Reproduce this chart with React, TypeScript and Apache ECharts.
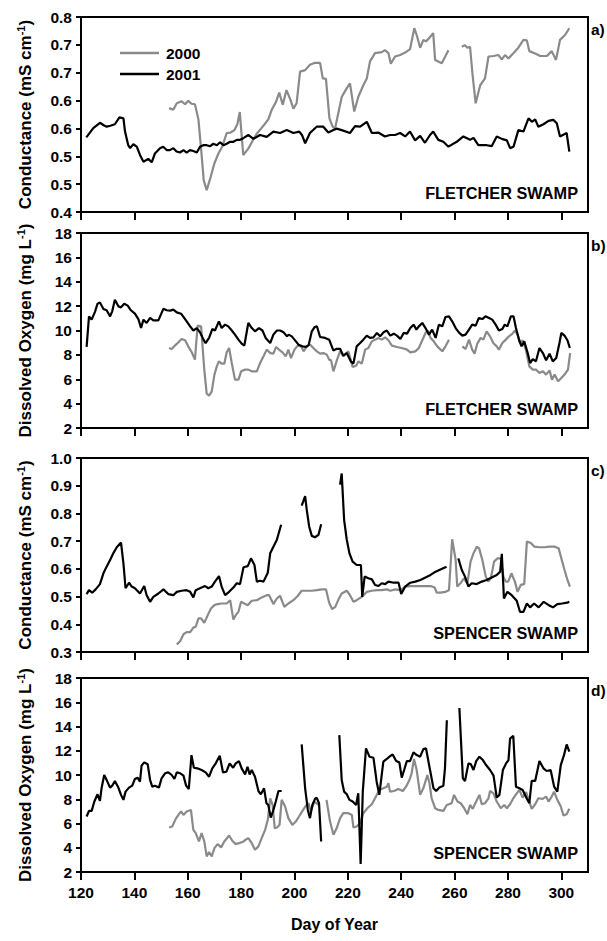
import React, { useEffect, useRef } from "react";
import * as echarts from "echarts";

type Pt = [number, number | null];

// ---- x axis ----
const dayTicks = [120, 140, 160, 180, 200, 220, 240, 260, 280, 300];

// ---- panel a: Fletcher conductance ----
const condTicksA = [0.4, 0.4571, 0.5143, 0.5714, 0.6286, 0.6857, 0.7429, 0.8];
const condTickLabelsA = ["0.4", "0.5", "0.5", "0.6", "0.6", "0.7", "0.7", "0.8"];

const fletcherCond2000: Pt[] = [
  [153, 0.613], [154.6, 0.61], [155.9, 0.623], [157.7, 0.627], [159, 0.621], [160.2, 0.628], [161.4, 0.622],
  [162.7, 0.621], [164, 0.59], [165, 0.53], [166, 0.465], [167.1, 0.445], [168.5, 0.47], [170, 0.5],
  [171.5, 0.52], [173, 0.535], [174.6, 0.562], [176, 0.563], [177.5, 0.568], [178.6, 0.58], [179.5, 0.605],
  [180.8, 0.517], [182.7, 0.53], [184.2, 0.545], [185.8, 0.56], [187.3, 0.57], [188.8, 0.58], [190.2, 0.59],
  [191.5, 0.61], [193, 0.625], [194.3, 0.645], [195.6, 0.62], [197, 0.65], [198.5, 0.63], [199.6, 0.612],
  [200.8, 0.623], [202.1, 0.688], [204, 0.691], [205.8, 0.702], [207.7, 0.706], [209.6, 0.706], [210.6, 0.674],
  [211.8, 0.673], [213.1, 0.592], [214.3, 0.575], [215.2, 0.571], [216.4, 0.602], [217.7, 0.636], [219.6, 0.654],
  [220.8, 0.664], [222.4, 0.606], [223.9, 0.636], [225.8, 0.66], [227.1, 0.674], [228.3, 0.709], [230.2, 0.726],
  [232.7, 0.728], [233.9, 0.732], [235.2, 0.726], [236.1, 0.704], [237.7, 0.719], [239.6, 0.722], [241.5, 0.727],
  [243.3, 0.734], [244.9, 0.777], [245.8, 0.763], [247.1, 0.737], [248.3, 0.753], [249.3, 0.75], [250.5, 0.757],
  [252, 0.767], [252.7, 0.712], [255.2, 0.705], [257.7, 0.732], [260, null], [262.7, 0.739], [263.9, 0.742],
  [264.8, 0.737], [265.8, 0.739], [266.8, 0.678], [267.9, 0.623], [269.6, 0.66], [271.4, 0.674], [272.7, 0.719],
  [274.6, 0.72], [276.4, 0.722], [277.7, 0.713], [278.9, 0.722], [280.2, 0.715], [282.1, 0.726], [283.9, 0.737],
  [285.8, 0.753], [287.1, 0.752], [288, 0.73], [290.2, 0.725], [292.1, 0.72], [294.6, 0.72], [296.4, 0.73],
  [298, 0.712], [299.5, 0.753], [301.4, 0.763], [303, 0.777],
];

const fletcherCond2001: Pt[] = [
  [122, 0.553], [124.6, 0.572], [127.1, 0.583], [128.5, 0.578], [129.6, 0.575], [131, 0.577], [132.7, 0.58],
  [134.4, 0.594], [135.9, 0.592], [136.5, 0.565], [137.7, 0.537], [138.4, 0.531], [139.6, 0.539], [140.9, 0.534],
  [142.1, 0.517], [143.4, 0.503], [145.2, 0.509], [146.5, 0.502], [147.7, 0.52], [149.6, 0.531], [150.8, 0.534],
  [152.1, 0.527], [153.3, 0.527], [154.6, 0.531], [155.8, 0.524], [157.1, 0.522], [158.4, 0.527], [159.6, 0.522],
  [160.8, 0.527], [162.1, 0.525], [163.4, 0.522], [164.6, 0.534], [165.8, 0.537], [167.1, 0.537], [168.4, 0.535],
  [169.6, 0.54], [170.9, 0.537], [172.1, 0.543], [173.4, 0.537], [174.6, 0.54], [175.9, 0.544], [177.1, 0.544],
  [178.4, 0.548], [179.6, 0.548], [181, 0.552], [182.7, 0.558], [184.6, 0.55], [187.1, 0.558], [189.6, 0.554],
  [192.1, 0.565], [194.6, 0.562], [197.1, 0.568], [199.6, 0.562], [201.8, 0.565], [202.8, 0.558], [204, 0.541],
  [205.8, 0.562], [208.3, 0.575], [210.8, 0.575], [212.7, 0.563], [214.6, 0.568], [215.8, 0.571], [217.7, 0.568],
  [220.8, 0.562], [222.7, 0.576], [224.6, 0.575], [227.1, 0.585], [229, 0.562], [231.4, 0.563], [233.9, 0.555],
  [235.8, 0.558], [237.7, 0.558], [239.6, 0.562], [241.5, 0.555], [243.3, 0.565], [245.2, 0.547], [247.1, 0.556],
  [248.9, 0.542], [250.8, 0.558], [252, 0.565], [253.9, 0.548], [255.8, 0.544], [257.7, 0.534], [260.8, 0.544],
  [263.3, 0.555], [265.8, 0.548], [267.1, 0.552], [268.9, 0.537], [272.1, 0.537], [273.9, 0.535], [275.8, 0.555],
  [277.7, 0.55], [279.6, 0.547], [280.8, 0.531], [282.1, 0.534], [283.9, 0.568], [285.8, 0.565], [287.7, 0.592],
  [289, 0.585], [290.2, 0.59], [291.4, 0.575], [293.3, 0.58], [295.2, 0.587], [297, 0.589], [298.3, 0.582],
  [299.5, 0.555], [302, 0.562], [303, 0.524],
];

// ---- panel b: Fletcher dissolved oxygen ----
const fletcherDO2000: Pt[] = [
  [153, 8.56], [154, 8.48], [155.2, 8.76], [156.5, 9.03], [157.7, 9.3], [159, 9.2], [160.2, 8.7], [161.5, 8.21],
  [162.7, 7.61], [163.7, 10.4], [165, 10.34], [166.2, 6.79], [167.1, 4.82], [168, 4.65], [169, 5], [170, 6.38],
  [170.9, 7.06], [171.7, 7.47], [172.7, 7.28], [173.7, 7.28], [174.6, 8.21], [175.5, 8.56], [176.5, 7.33],
  [177.7, 5.97], [179, 5.97], [180, 6.65], [181.5, 6.79], [182.7, 6.79], [184, 6.65], [185.9, 6.65], [187.1, 7.33],
  [188.4, 7.88], [189.6, 8.43], [190.9, 8.15], [192.1, 8.1], [193.1, 8.65], [194.2, 8.43], [195.5, 8.21],
  [196.7, 7.88], [197.7, 8.43], [198.7, 7.74], [200, 8.43], [201.2, 8.76], [202.5, 8.7], [203.4, 8.29],
  [204.7, 8.7], [205.9, 8.84], [207.1, 8.56], [208.4, 8.29], [209.6, 8.1], [210.9, 8.15], [212.1, 8.02],
  [213, 7.61], [213.7, 7.55], [214.6, 6.65], [215.8, 7.5], [217.1, 8.3], [218.3, 7.88], [220.2, 8.29], [221.8, 7],
  [223.1, 7.11], [224, 7.47], [225.2, 7.28], [226.5, 8.43], [227.7, 8.56], [229, 9.11], [230.2, 9.25],
  [231.5, 9.39], [232.7, 9.25], [234, 9.44], [235.2, 9.2], [236.5, 8.76], [238.4, 8.65], [240.2, 8.56],
  [242.2, 8.43], [243.4, 8.21], [245.3, 8.29], [246.6, 8.56], [247.9, 9.2], [249.1, 9.8], [250, 10], [251, 9.39],
  [252.2, 9.11], [253.5, 8.7], [255.4, 8.29], [256.6, 8.7], [257.9, 9.25], [260, null], [262.9, 8.7],
  [264.1, 8.48], [265.4, 9.25], [266.6, 8.43], [267.5, 8.1], [268.5, 8.92], [269.8, 9.39], [270.8, 9.25],
  [272, 9.93], [273.3, 9.52], [274.5, 8.97], [275.8, 8.7], [276.6, 8.43], [277.9, 8.97], [279.2, 9.25],
  [280.4, 9.52], [281.7, 9.74], [282.6, 10], [283.6, 9.66], [284.6, 8.97], [285.5, 9.2], [286.7, 8.43],
  [288, 7.06], [289.3, 6.79], [290.5, 6.79], [291.8, 6.51], [293.1, 6.65], [294.3, 6.38], [295.6, 6.73],
  [296.5, 5.97], [297.5, 6.38], [298.8, 5.83], [300, 6.1], [301.2, 6.38], [302.5, 6.79], [303.3, 8.15],
];

const fletcherDO2001: Pt[] = [
  [122.1, 8.65], [123, 11.16], [124, 10.89], [125.3, 11.57], [126.2, 12.2], [127.1, 12.3], [128.4, 11.77],
  [129.6, 11.66], [130.9, 11.16], [131.7, 11.57], [132.7, 12.53], [134, 11.98], [135, 11.9], [136.2, 12.2],
  [137.5, 12.04], [138.7, 11.66], [140.2, 11.38], [141.5, 10.94], [142.5, 10.2], [143.4, 10.89], [144.6, 10.62],
  [145.9, 11.03], [147.1, 10.83], [149, 10.83], [150.9, 11.79], [152.1, 11.66], [153.4, 11.63], [154.6, 11.71],
  [155.9, 11.49], [157.5, 11.38], [158.4, 11.11], [159.6, 10.75], [160.9, 10.34], [162.1, 10], [163.4, 10.2],
  [164.6, 9.85], [165.9, 9.25], [166.7, 8.97], [168, 9.39], [169.2, 10.12], [170.2, 10], [171.7, 10.75],
  [172.7, 10.2], [174, 10.48], [175.2, 10.34], [176.5, 10], [177.7, 9.66], [179, 9.25], [180.2, 8.92],
  [181.2, 8.76], [182.7, 10.62], [184, 10.2], [185.2, 9.93], [186.7, 10.2], [188, 10], [189.2, 9.39],
  [190.9, 8.97], [192.1, 9.66], [193.4, 10], [194.6, 10], [195.9, 9.85], [197.2, 9.52], [197.8, 9.66],
  [199, 9.52], [200.3, 9.17], [201.5, 8.84], [203, 8.7], [204.3, 8.65], [205.3, 8.8], [206.5, 9.93],
  [207.6, 10.29], [208.4, 10.35], [209.6, 9.47], [211.5, 9.39], [213, 9.25], [214.6, 8.35], [215.8, 8.5],
  [217.1, 8.5], [218.3, 7.94], [219.6, 8.15], [221.1, 7.47], [222.1, 7.28], [223.3, 8.7], [224.6, 8.97],
  [225.8, 9.25], [227.1, 9.58], [228.3, 9.39], [229.6, 9.44], [230.9, 9.8], [232.1, 9.52], [233.4, 9.85],
  [234.6, 10], [235.9, 9.58], [237.2, 9.74], [238.4, 9.58], [239.7, 9.3], [240.9, 9.8], [242.2, 9.74],
  [243.4, 10.2], [244.7, 10.48], [245.7, 10.07], [246.6, 10.34], [247.9, 10.62], [249.1, 10.2], [250.4, 9.66],
  [251.6, 10.07], [252.9, 9.39], [254.1, 10.48], [255.4, 10.34], [256.6, 11.11], [257.9, 11.16], [259.1, 10.75],
  [260.4, 10.2], [261.6, 9.85], [262.9, 9.58], [264.1, 9.66], [265.4, 10.07], [266.6, 10.48], [267.9, 10.4],
  [269.1, 11.03], [270.4, 10.94], [271.6, 11.16], [272.9, 11.03], [274.1, 10.89], [275.4, 10.48], [276.6, 10],
  [277.9, 10.12], [278.8, 10.48], [279.8, 10.34], [281.1, 11.16], [282.1, 11.16], [283, 10.2], [284.2, 9.2],
  [285.1, 8.7], [286.1, 9.11], [287.4, 8.15], [288.3, 7.33], [289.3, 7.66], [290.5, 7.47], [291.8, 8.56],
  [293.1, 8.15], [294.3, 7.55], [295.6, 8.1], [296.8, 7.47], [298.1, 7.74], [299.3, 8.97], [300, 9.8],
  [301.2, 9.58], [302.3, 9.2], [303.2, 8.56],
];

// ---- panel c: Spencer conductance ----
const spencerCond2000: Pt[] = [
  [155.9, 0.327], [157.2, 0.34], [158.4, 0.364], [159.6, 0.372], [160.9, 0.372], [162.1, 0.388], [163, 0.391],
  [164, 0.421], [165, 0.421], [166.2, 0.405], [167.5, 0.433], [168.7, 0.457], [170, 0.469], [171.2, 0.473],
  [172.7, 0.475], [174.6, 0.475], [175.9, 0.487], [177.1, 0.417], [178, 0.433], [179, 0.445], [180, 0.481],
  [181.2, 0.475], [182.5, 0.469], [184, 0.485], [185.9, 0.487], [187.7, 0.497], [189.6, 0.505], [190.5, 0.505],
  [192.1, 0.473], [193.4, 0.493], [194.6, 0.503], [196.2, 0.463], [197.7, 0.475], [199.6, 0.487], [201.2, 0.502],
  [202.7, 0.521], [204.6, 0.521], [206.5, 0.521], [208.4, 0.523], [210.3, 0.526], [211.8, 0.526], [213, 0.478],
  [214.1, 0.455], [215.3, 0.463], [216.5, 0.49], [217.7, 0.511], [219.6, 0.521], [220.8, 0.505], [222.1, 0.481],
  [223.3, 0.487], [225.2, 0.499], [227.1, 0.517], [229, 0.521], [230.9, 0.523], [232.7, 0.523], [234.6, 0.526],
  [235.9, 0.521], [237.8, 0.526], [239.7, 0.523], [241.5, 0.536], [243.4, 0.538], [245.3, 0.538], [247.2, 0.538],
  [249.1, 0.538], [251, 0.538], [252.5, 0.533], [253.3, 0.514], [254.7, 0.514], [256.6, 0.517], [257.9, 0.523],
  [259.1, 0.707], [260.4, 0.632], [261, 0.536], [262.2, 0.548], [263.5, 0.566], [264.8, 0.548], [266, 0.626],
  [267, 0.654], [268.3, 0.68], [269.2, 0.674], [270.4, 0.632], [271.7, 0.572], [272.6, 0.554], [273.6, 0.566],
  [274.8, 0.626], [276.1, 0.638], [277.3, 0.638], [278.3, 0.572], [279.2, 0.554], [280.1, 0.554], [281.3, 0.584],
  [282.6, 0.554], [283.6, 0.517], [284.8, 0.542], [286.1, 0.545], [287.1, 0.699], [288.6, 0.693], [289.9, 0.68],
  [291.8, 0.678], [293.7, 0.678], [295.6, 0.68], [297.5, 0.68], [299, 0.674], [300, 0.638], [301.2, 0.596],
  [302.3, 0.56], [303.2, 0.536],
];

const spencerCond2001: Pt[] = [
  [122.1, 0.509], [123, 0.523], [124.2, 0.514], [125.5, 0.526], [127.1, 0.545], [128.4, 0.584], [129.6, 0.608],
  [130.9, 0.632], [132.1, 0.656], [133.4, 0.678], [135, 0.695], [135.9, 0.62], [136.7, 0.53], [138, 0.55],
  [139, 0.536], [140.2, 0.53], [142.1, 0.511], [143.7, 0.538], [144.6, 0.505], [145.9, 0.481], [147.1, 0.499],
  [149, 0.511], [150.9, 0.526], [152.7, 0.509], [154.6, 0.505], [155.9, 0.517], [157.7, 0.521], [159.6, 0.523],
  [160.9, 0.517], [162.1, 0.497], [163, 0.523], [164.6, 0.53], [166.5, 0.538], [167.7, 0.53], [169, 0.536],
  [170.2, 0.554], [171.7, 0.574], [172.7, 0.536], [174, 0.505], [175.5, 0.517], [177.1, 0.533], [178.4, 0.548],
  [179.6, 0.545], [180.9, 0.606], [182.5, 0.61], [183.7, 0.638], [185, 0.614], [185.9, 0.554], [187.1, 0.557],
  [188.4, 0.554], [190, 0.586], [190.9, 0.656], [192.1, 0.68], [193.4, 0.705], [195, 0.759], [198, null],
  [202.7, 0.828], [204, 0.862], [204.6, 0.813], [205.5, 0.753], [206.5, 0.719], [207.7, 0.714], [209, 0.723],
  [210, 0.761], [213, null], [217.1, 0.904], [217.7, 0.944], [218.6, 0.777], [219.6, 0.705], [220.6, 0.656],
  [221.8, 0.626], [223.3, 0.614], [224.9, 0.614], [225.4, 0.499], [226.3, 0.572], [227.7, 0.566], [229, 0.562],
  [230.2, 0.542], [231.5, 0.538], [232.7, 0.548], [234, 0.545], [235.2, 0.554], [237.2, 0.55], [239, 0.55],
  [240, 0.509], [241.5, 0.536], [243.4, 0.55], [245.3, 0.554], [247.2, 0.56], [249.1, 0.569], [251, 0.578],
  [252.9, 0.59], [254.7, 0.598], [257, 0.608], [259, null], [261.4, 0.638], [262.7, 0.596], [263.9, 0.572],
  [265.2, 0.536], [266.4, 0.548], [268.3, 0.545], [270.2, 0.554], [272, 0.56], [273.9, 0.569], [275.8, 0.578],
  [277.1, 0.59], [277.7, 0.654], [278.5, 0.493], [279.8, 0.517], [281.4, 0.505], [283.3, 0.485], [284.5, 0.445],
  [285.8, 0.445], [287.1, 0.475], [288.3, 0.461], [289.8, 0.475], [291.5, 0.461], [293.4, 0.481], [295.3, 0.469],
  [296.9, 0.461], [298.5, 0.473], [300.3, 0.475], [302.2, 0.478], [303, 0.481],
];

// ---- panel d: Spencer dissolved oxygen ----
const spencerDO2000: Pt[] = [
  [153, 5.67], [154.2, 5.75], [155.5, 6.38], [156.7, 6.77], [157.5, 6.99], [158.4, 6.71], [159.6, 6.99],
  [161.2, 7.12], [162.1, 5.48], [163, 5.21], [164.2, 4.52], [165.2, 5.21], [166.2, 4.52], [167.1, 3.29],
  [168, 3.64], [169, 3.29], [170, 3.97], [171.2, 4.3], [172.5, 4.03], [173.7, 4.52], [175.5, 5.01], [176.7, 4.58],
  [178, 4.3], [179.2, 4.38], [180.5, 4.47], [181.7, 4.66], [182.7, 4.79], [184, 4.38], [185.2, 3.84],
  [186.5, 4.11], [187.7, 4.79], [189, 5.48], [190, 6.3], [190.9, 8.08], [191.8, 7.53], [192.6, 5.62],
  [193.5, 5.67], [194.4, 5.89], [195.2, 7.95], [196.5, 7.4], [197.7, 6.44], [199.2, 5.89], [200.5, 6.16],
  [201.7, 6.58], [203, 7.04], [204.3, 7.48], [205.3, 7.67], [206.1, 6.99], [207.4, 7.81], [209, 7.53],
  [210.5, null], [212, 7.95], [213.3, 6.2], [214.6, 5.07], [215.8, 5.6], [217.1, 6.44], [218.3, 6.85],
  [220.2, 6.85], [221.5, 6.71], [222.1, 5.67], [223.3, 5.75], [224.6, 6.03], [225.8, 6.85], [227.3, 7.26],
  [229, 7.59], [230.2, 8.08], [231.8, 8.77], [233.3, 8.9], [234.6, 9.04], [235.2, 9.32], [235.8, 8.63],
  [237.3, 8.68], [238.9, 8.85], [240.6, 8.68], [241.8, 9.04], [243.1, 9.59], [243.9, 10.14], [244.8, 11.32],
  [245.8, 10.41], [247.1, 8.36], [248.3, 8.9], [249.8, 10], [250.6, 9.32], [251.4, 8.08], [252.7, 7.26],
  [253.9, 7.12], [255.8, 7.04], [257.1, 7.53], [258.9, 7.67], [259.8, 8.36], [261.1, 7.81], [262.3, 7.67],
  [263.6, 7.26], [264.8, 6.77], [265.8, 7.53], [266.8, 7.21], [268.1, 7.81], [269.3, 8.36], [270.2, 7.59],
  [271.4, 7.67], [272.7, 8.08], [273.3, 8.68], [274.6, 8.49], [275.8, 7.81], [277.3, 7.26], [278.6, 7.53],
  [279.6, 7.26], [280.8, 7.59], [282, 8.08], [283.3, 8.49], [284.3, 8.77], [285.5, 8.14], [286.8, 8.58],
  [288, 7.81], [288.9, 7.21], [290.2, 7.59], [291.4, 8.08], [293, 8.03], [294.3, 8.22], [295.2, 7.81],
  [296.4, 8.22], [297.3, 8.63], [298.5, 7.95], [299.8, 7.4], [300.8, 6.66], [302, 6.77], [303, 7.21],
];

const spencerDO2001: Pt[] = [
  [122.1, 6.58], [123, 7.04], [124, 7.04], [125, 7.81], [126.2, 8.41], [127.1, 7.86], [127.7, 8.9], [128.7, 10],
  [129.6, 9.59], [130.9, 8.96], [131.7, 9.12], [132.7, 9.51], [134, 8.96], [135, 8.36], [135.9, 7.95],
  [136.7, 8.63], [138, 8.96], [139.2, 9.12], [140.2, 9.67], [141.2, 9.78], [142.1, 9.45], [142.7, 10.77],
  [143.7, 11.04], [145, 10.88], [145.9, 9.59], [146.7, 9.04], [147.7, 9.12], [149.2, 8.96], [150.2, 9.73],
  [151.5, 10.14], [152.7, 10.22], [154, 10], [155, 9.67], [155.9, 10.22], [157.2, 10.14], [158.4, 9.95],
  [159.4, 9.12], [160.4, 8.85], [161.4, 11.64], [162.3, 10.6], [163.6, 10.55], [165.2, 10.41], [166.7, 10.22],
  [168, 9.86], [169.2, 10.55], [170.5, 10.96], [172, 11.59], [173.2, 10.22], [174.5, 10.27], [175.7, 10.96],
  [177, 10.6], [178, 10.96], [179.2, 11.15], [180.2, 10.55], [181.5, 10.05], [182.4, 10.68], [183.2, 10.05],
  [184, 10.41], [185.2, 9.86], [186.5, 8.68], [187.4, 8.41], [188.6, 8.9], [189.5, 7.67], [190.2, 7.53],
  [191.1, 6.49], [192, 7.04], [193, 7.81], [194, 8.68], [195.2, 8.68], [199, null], [202.7, 12.52], [204, 8.9],
  [205, 7.12], [205.8, 6.44], [206.7, 7.53], [207.7, 8.03], [208.3, 8.14], [209.2, 7.67], [210, 4.52],
  [214, null], [216.8, 13.29], [217.7, 9.59], [218.6, 8.63], [219.6, 8.41], [220.6, 7.95], [221.8, 7.81],
  [223.1, 7.53], [223.9, 8.49], [224.8, 2.66], [225.6, 8.63], [226.8, 12.19], [228.1, 11.51], [229.6, 11.42],
  [230.8, 9.45], [231.8, 8.36], [233.3, 11.1], [234.6, 11.32], [235.6, 11.51], [236.8, 11.7], [238.1, 11.15],
  [239.3, 11.04], [240.2, 9.78], [241.1, 10.41], [242.1, 11.15], [243.3, 11.15], [244.6, 11.86], [245.8, 11.64],
  [247.1, 11.51], [248.3, 12.14], [249.3, 12.19], [250.8, 10.41], [252.1, 8.9], [253.1, 8.68], [254.3, 8.96],
  [255.8, 9.12], [256.4, 10.55], [257.1, 14.52], [259, null], [261.8, 15.53], [263.1, 9.73], [263.9, 9.51],
  [265.2, 10.96], [266.1, 10.88], [267.1, 10.41], [268.1, 11.15], [269.3, 11.51], [270.6, 11.23], [271.8, 10.82],
  [273.3, 10.41], [274.6, 9.95], [275.8, 8.14], [276.8, 8.36], [278.1, 10.41], [279.3, 10.96], [280.2, 11.23],
  [280.8, 13.01], [282, 13.23], [283, 9.04], [284.3, 8.9], [285.5, 8.77], [287, 8.08], [288, 7.67],
  [288.9, 9.51], [290.2, 9.51], [291.8, 11.15], [293.3, 10.55], [294.5, 10.33], [296, 10.41], [297.3, 9.04],
  [298.5, 8.63], [299.8, 10.82], [301, 11.64], [302, 12.52], [303, 11.92],
];

const doTicks = [2, 4, 6, 8, 10, 12, 14, 16, 18];
const condTicksC = [0.3, 0.4, 0.5, 0.6, 0.7, 0.8, 0.9, 1.0];
const panelLetters = ["a)", "b)", "c)", "d)"];
const siteNames = ["FLETCHER SWAMP", "FLETCHER SWAMP", "SPENCER SWAMP", "SPENCER SWAMP"];

const FONT = "'Liberation Sans', Arial, Helvetica, sans-serif";
const GRAY = "#8a8a8a";
const BLACK = "#000000";

export default function App() {
  const ref = useRef<HTMLDivElement>(null);

  useEffect(() => {
    if (!ref.current) return;
    const chart = echarts.init(ref.current, undefined, { renderer: "svg" });

    const gridTops = [17, 233, 458, 678];
    const gridHeights = [195, 195, 194, 194];
    const gridLeft = 81;
    const gridWidth = 507;

    const grids = gridTops.map((t, i) => ({
      left: gridLeft,
      top: t,
      width: gridWidth,
      height: gridHeights[i],
      show: true,
      borderColor: BLACK,
      borderWidth: 2,
      backgroundColor: "transparent",
      containLabel: false,
      outerBoundsMode: "none",
    }));

    const xAxes = gridTops.map((_, i) => ({
      type: "value",
      gridIndex: i,
      min: 120,
      max: 310,
      interval: 20,
      axisLine: { show: true, onZero: false, lineStyle: { color: BLACK, width: 2 } },
      axisTick: { show: true, inside: false, length: 8, lineStyle: { color: BLACK, width: 2 }, customValues: dayTicks },
      axisLabel: {
        show: i === 3,
        customValues: dayTicks,
        color: BLACK,
        fontFamily: FONT,
        fontWeight: "bold",
        fontSize: 15.5,
        margin: 12,
      },
      splitLine: { show: false },
      name: i === 3 ? "Day of Year" : "",
      nameLocation: "middle",
      nameGap: 44,
      nameTextStyle: { color: BLACK, fontFamily: FONT, fontWeight: "bold", fontSize: 16 },
    }));

    const nameRich = {
      t: { fontFamily: FONT, fontWeight: "bold", fontSize: 17, color: BLACK, lineHeight: 20 },
      s: { fontFamily: FONT, fontWeight: "bold", fontSize: 11, color: BLACK, verticalAlign: "top", lineHeight: 10 },
    };

    const yBase = (i: number) => ({
      type: "value",
      gridIndex: i,
      nameLocation: "middle",
      nameRotate: 90,
      nameGap: 46,
      nameTextStyle: { rich: nameRich },
      axisLine: { show: true, onZero: false, lineStyle: { color: BLACK, width: 2 } },
      splitLine: { show: false },
    });

    const labelStyle = {
      color: BLACK,
      fontFamily: FONT,
      fontWeight: "bold",
      fontSize: 15.5,
      margin: 9,
    };

    const yAxes = [
      {
        ...yBase(0),
        min: 0.4,
        max: 0.8,
        name: "{t|Conductance (mS cm}{s|-1}{t|)}",
        axisTick: { show: true, length: 5, lineStyle: { color: BLACK, width: 2 }, customValues: condTicksA },
        axisLabel: {
          ...labelStyle,
          customValues: condTicksA,
          formatter: (v: number) => {
            let best = 0;
            condTicksA.forEach((t, k) => {
              if (Math.abs(t - v) < Math.abs(condTicksA[best] - v)) best = k;
            });
            return condTickLabelsA[best];
          },
        },
      },
      {
        ...yBase(1),
        min: 2,
        max: 18,
        interval: 2,
        name: "{t|Dissolved Oxygen (mg L}{s|-1}{t|)}",
        axisTick: { show: true, length: 5, lineStyle: { color: BLACK, width: 2 }, customValues: doTicks },
        axisLabel: { ...labelStyle, customValues: doTicks },
      },
      {
        ...yBase(2),
        min: 0.3,
        max: 1.0,
        interval: 0.1,
        name: "{t|Conductance (mS cm}{s|-1}{t|)}",
        axisTick: { show: true, length: 5, lineStyle: { color: BLACK, width: 2 }, customValues: condTicksC },
        axisLabel: { ...labelStyle, customValues: condTicksC, formatter: (v: number) => v.toFixed(1) },
      },
      {
        ...yBase(3),
        min: 2,
        max: 18,
        interval: 2,
        name: "{t|Dissolved Oxygen (mg L}{s|-1}{t|)}",
        axisTick: { show: true, length: 5, lineStyle: { color: BLACK, width: 2 }, customValues: doTicks },
        axisLabel: { ...labelStyle, customValues: doTicks },
      },
    ];

    const mk = (name: string, data: Pt[], idx: number, color: string, z: number) => ({
      name,
      type: "line",
      xAxisIndex: idx,
      yAxisIndex: idx,
      data,
      showSymbol: false,
      symbol: "none",
      connectNulls: false,
      smooth: false,
      z,
      lineStyle: { color, width: 2.2 },
      itemStyle: { color },
      emphasis: { disabled: true },
    });

    const series = [
      mk("2000", fletcherCond2000, 0, GRAY, 2),
      mk("2001", fletcherCond2001, 0, BLACK, 3),
      mk("2000", fletcherDO2000, 1, GRAY, 2),
      mk("2001", fletcherDO2001, 1, BLACK, 3),
      mk("2000", spencerCond2000, 2, GRAY, 2),
      mk("2001", spencerCond2001, 2, BLACK, 3),
      mk("2000", spencerDO2000, 3, GRAY, 2),
      mk("2001", spencerDO2001, 3, BLACK, 3),
    ];

    const graphics: any[] = [];
    gridTops.forEach((t, i) => {
      graphics.push({
        type: "text",
        x: 591,
        y: t + 12,
        style: {
          text: panelLetters[i],
          fill: BLACK,
          font: `bold 15.5px ${FONT}`,
          align: "left",
          verticalAlign: "middle",
        },
      });
      graphics.push({
        type: "text",
        x: 578,
        y: t + gridHeights[i] - 19,
        style: {
          text: siteNames[i],
          fill: BLACK,
          font: `bold 16.3px ${FONT}`,
          align: "right",
          verticalAlign: "middle",
        },
      });
    });

    chart.setOption({
      animation: false,
      backgroundColor: "#ffffff",
      grid: grids,
      xAxis: xAxes,
      yAxis: yAxes,
      legend: {
        data: ["2000", "2001"],
        orient: "vertical",
        left: 115,
        top: 40,
        icon: "rect",
        itemWidth: 39,
        itemHeight: 2.5,
        itemGap: 5,
        selectedMode: false,
        textStyle: { color: BLACK, fontFamily: FONT, fontWeight: "bold", fontSize: 15.5, lineHeight: 16, padding: [0, 0, 0, 2] },
      },
      series,
      graphic: graphics,
    });

    return () => chart.dispose();
  }, []);

  return (
    <div
      ref={ref}
      style={{ position: "absolute", left: 0, top: 0, width: 607, height: 941, background: "#fff" }}
    />
  );
}
